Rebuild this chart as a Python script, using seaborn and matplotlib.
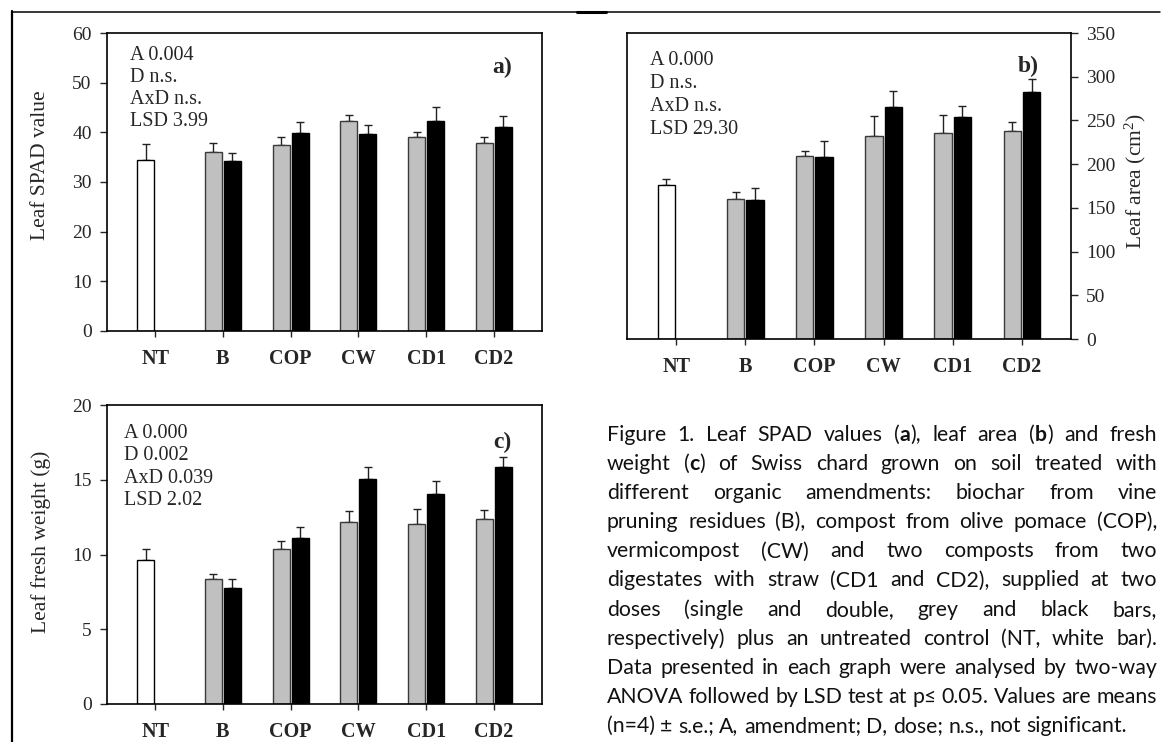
import numpy as np
import pandas as pd
import matplotlib
matplotlib.use("Agg")
import matplotlib.pyplot as plt
import seaborn as sns
from matplotlib.lines import Line2D

# ---------------- data ----------------
amendments = ["NT", "B", "COP", "CW", "CD1", "CD2"]
doses = ["single", "double"]

spad_single = [34.4, 36.1, 37.5, 42.2, 39.1, 37.9]
spad_single_se = [3.3, 1.8, 1.5, 1.3, 0.9, 1.1]
spad_double = [np.nan, 34.2, 39.8, 39.7, 42.2, 41.1]
spad_double_se = [np.nan, 1.7, 2.2, 1.8, 2.8, 2.1]

area_single = [176.2, 160.5, 209.0, 232.7, 235.8, 238.1]
area_single_se = [7.2, 7.6, 6.1, 21.8, 20.6, 10.3]
area_double = [np.nan, 158.6, 208.3, 265.6, 254.1, 282.8]
area_double_se = [np.nan, 14.1, 18.3, 18.3, 12.2, 14.5]

fw_single = [9.65, 8.34, 10.39, 12.20, 12.06, 12.35]
fw_single_se = [0.70, 0.38, 0.51, 0.71, 1.00, 0.60]
fw_double = [np.nan, 7.78, 11.10, 15.05, 14.02, 15.83]
fw_double_se = [np.nan, 0.60, 0.76, 0.80, 0.87, 0.67]

stats_a = ["A 0.004", "D n.s.", "AxD n.s.", "LSD 3.99"]
stats_b = ["A 0.000", "D n.s.", "AxD n.s.", "LSD 29.30"]
stats_c = ["A 0.000", "D 0.002", "AxD 0.039", "LSD 2.02"]

caption_lines = [
    "Figure 1. Leaf SPAD values (*a*), leaf area (*b*) and fresh",
    "weight (*c*) of Swiss chard grown on soil treated with",
    "different organic amendments: biochar from vine",
    "pruning residues (B), compost from olive pomace (COP),",
    "vermicompost (CW) and two composts from two",
    "digestates with straw (CD1 and CD2), supplied at two",
    "doses (single and double, grey and black bars,",
    "respectively) plus an untreated control (NT, white bar).",
    "Data presented in each graph were analysed by two-way",
    "ANOVA followed by LSD test at p\u2264 0.05. Values are means",
    "(n=4) \u00b1 s.e.; A, amendment; D, dose; n.s., not significant.",
]

# ---------------- style ----------------
sns.set_style("ticks")
SERIF = ["Liberation Serif", "DejaVu Serif"]
plt.rcParams["font.family"] = SERIF
plt.rcParams["mathtext.default"] = "regular"
plt.rcParams["axes.linewidth"] = 1.2
plt.rcParams["axes.edgecolor"] = "black"

W, H = 1162, 742
fig = plt.figure(figsize=(W / 100, H / 100), dpi=100)


def px_axes(x0, y0, x1, y1):
    return fig.add_axes([x0 / W, 1 - y1 / H, (x1 - x0) / W, (y1 - y0) / H])


GREY = "#c0c0c0"
BLACK = "#000000"


def draw_panel(ax, single, single_se, double, double_se, ymax, ystep,
               ylabel, stats, letter, stats_xy, stats_dy, letter_xy,
               ylabel_xy, right=False):
    df = pd.DataFrame({
        "amendment": amendments * 2,
        "dose": ["single"] * len(amendments) + ["double"] * len(amendments),
        "value": list(single) + list(double),
        "se": list(single_se) + list(double_se),
    }).dropna()
    sns.barplot(data=df, x="amendment", y="value", hue="dose",
                order=amendments, hue_order=doses,
                palette={"single": GREY, "double": BLACK},
                width=0.56, gap=0.1, errorbar=None, linewidth=1.0,
                edgecolor="black", legend=False, ax=ax, zorder=2)
    lookup = {(r.amendment, r.dose): r.se for r in df.itertuples()}
    xs, hs, ses = [], [], []
    for p in ax.patches:
        xc = p.get_x() + p.get_width() / 2
        i = int(round(xc))
        d = "single" if xc < i else "double"
        if (amendments[i], d) not in lookup:
            continue
        if d == "single":
            p.set_edgecolor("#3a3a3a")
        if i == 0:
            p.set_facecolor("white")
            p.set_edgecolor("black")
        xs.append(xc)
        hs.append(p.get_height())
        ses.append(lookup[(amendments[i], d)])
    ax.errorbar(xs, hs, yerr=[np.zeros(len(ses)), ses], fmt="none",
                ecolor="#222222", elinewidth=1.0, capsize=3, capthick=1.0,
                zorder=1)
    ax.set_xlim(-0.71, 5.71)
    ax.set_ylim(0, ymax)
    ax.set_yticks(np.arange(0, ymax + ystep / 2, ystep))
    ax.set_xlabel("")
    ax.tick_params(axis="y", direction="out", length=5, width=1.0,
                   labelsize=14, pad=6)
    ax.tick_params(axis="x", direction="out", length=4, width=1.0,
                   labelsize=14.5, pad=9)
    for lbl in ax.get_xticklabels():
        lbl.set_fontweight("bold")
    for s in ax.spines.values():
        s.set_visible(True)
        s.set_linewidth(1.2)
    if right:
        ax.yaxis.tick_right()
        ax.yaxis.set_label_position("right")
    ax.set_ylabel(ylabel, fontsize=15.5, rotation=90, va="center",
                  ha="center")
    ax.yaxis.set_label_coords(*ylabel_xy)
    for k, s in enumerate(stats):
        ax.text(stats_xy[0], stats_xy[1] - k * stats_dy, s,
                transform=ax.transAxes, fontsize=14.5, va="center",
                ha="left")
    ax.text(letter_xy[0], letter_xy[1], letter, transform=ax.transAxes,
            fontsize=17, fontweight="bold", ha="right", va="center")


ax_a = px_axes(107, 33, 542, 331)
draw_panel(ax_a, spad_single, spad_single_se, spad_double, spad_double_se,
           60, 10, "Leaf SPAD value", stats_a, "a)",
           (0.053, 0.925), 0.074, (0.93, 0.885), (-0.152, 0.555))

ax_b = px_axes(627, 33, 1071, 339)
draw_panel(ax_b, area_single, area_single_se, area_double, area_double_se,
           350, 50, "Leaf area (cm$^2$)", stats_b, "b)",
           (0.052, 0.909), 0.075, (0.928, 0.89), (1.144, 0.516), right=True)

ax_c = px_axes(107, 405, 542, 704)
draw_panel(ax_c, fw_single, fw_single_se, fw_double, fw_double_se,
           20, 5, "Leaf fresh weight (g)", stats_c, "c)",
           (0.040, 0.905), 0.075, (0.93, 0.874), (-0.152, 0.543))

# ---------------- frame lines ----------------
fig.add_artist(Line2D([12 / W, 1160 / W], [1 - 12 / H, 1 - 12 / H],
                      transform=fig.transFigure, color="black", lw=1.1))
fig.add_artist(Line2D([577 / W, 606 / W], [1 - 12 / H, 1 - 12 / H],
                      transform=fig.transFigure, color="black", lw=2.2))
fig.add_artist(Line2D([12 / W, 12 / W], [1 - 11 / H, 0],
                      transform=fig.transFigure, color="black", lw=1.6))

# ---------------- caption (justified) ----------------
CAP = ["Lato", "DejaVu Sans"]
renderer = fig.canvas.get_renderer()
cap_left, cap_right = 607, 1157
base0, base_step = 441, 29.1


def parse_word(word):
    parts = word.split("*")
    return [(t, k % 2 == 1) for k, t in enumerate(parts) if t]


def seg_width(text, bold, fs):
    t = fig.text(0, 0, text, fontsize=fs, family=CAP,
                 fontweight="bold" if bold else "normal")
    w = t.get_window_extent(renderer).width
    t.remove()
    return w


def line_words(line):
    return [parse_word(w) for w in line.split(" ")]


ref_fs = 10.0
space_ref = seg_width("a a", False, ref_fs) - seg_width("aa", False, ref_fs)
nat = []
for line in caption_lines:
    words = line_words(line)
    ww = sum(seg_width(t, b, ref_fs) for w in words for (t, b) in w)
    nat.append(ww + space_ref * (len(words) - 1))
cap_fs = ref_fs * (cap_right - cap_left) / max(nat)

for li, line in enumerate(caption_lines):
    words = line_words(line)
    widths = [[seg_width(t, b, cap_fs) for (t, b) in w] for w in words]
    tot = sum(sum(w) for w in widths)
    if li < len(caption_lines) - 1 and len(words) > 1:
        gap = (cap_right - cap_left - tot) / (len(words) - 1)
    else:
        gap = space_ref * cap_fs / ref_fs
    x = cap_left
    yb = 1 - (base0 + li * base_step) / H
    for w, wd in zip(words, widths):
        for (t, b), sw in zip(w, wd):
            fig.text(x / W, yb, t, fontsize=cap_fs, family=CAP,
                     fontweight="bold" if b else "normal",
                     ha="left", va="baseline", color="#111111")
            x += sw
        x += gap

fig.savefig("out.png", dpi=100, facecolor="white")
